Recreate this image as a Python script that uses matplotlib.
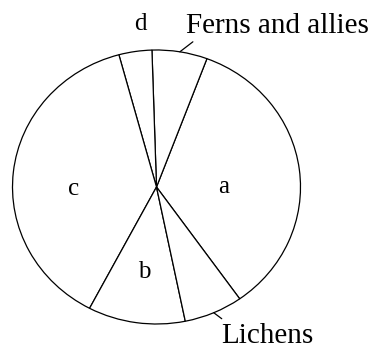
import numpy as np
import matplotlib
matplotlib.use("Agg")
import matplotlib.pyplot as plt

# Slice shares (percent), counter-clockwise starting from slice "a"
labels = ["a", "Ferns and allies", "d", "c", "b", "Lichens"]
values = [34.5, 6.2, 3.7, 38.1, 10.9, 6.6]
start_angle = -54.7

W, H = 377, 349
cx, cy = 156.5, 187.0   # pie centre in pixels
rx, ry = 144.0, 137.0   # pie radii in pixels

fig = plt.figure(figsize=(W / 100, H / 100), dpi=100)
ax = fig.add_axes([0, 0, 1, 1])
wedges, _ = ax.pie(values, startangle=start_angle, counterclock=True,
                   radius=1.0, center=(0, 0),
                   wedgeprops=dict(facecolor="white", edgecolor="black",
                                   linewidth=0.9))
ax.set_aspect("auto")
ax.set_xlim(-cx / rx, (W - cx) / rx)
ax.set_ylim(-(H - cy) / ry, cy / ry)
ax.axis("off")

font = "Liberation Serif"

def px(x, y):
    return x / W, 1 - y / H

# inside / outside letter labels (baseline positions in pixels)
letter_pos = {"a": (224, 193), "c": (74, 195), "b": (144, 278), "d": (140, 30)}
for lab, (x, y) in letter_pos.items():
    ax.text(*px(x, y), lab, transform=ax.transAxes, ha="center", va="baseline",
            fontsize=18, family=font, color="black")

# outer named labels with short leader ticks at wedge mid-angles
total = sum(values)
angles = np.cumsum([0] + values) / total * 360 + start_angle
mids = {lab: (angles[i] + angles[i + 1]) / 2 for i, lab in enumerate(labels)}

ext = {"Ferns and allies": ((186, 33), (13, 10)), "Lichens": ((221, 343), (8, -6))}
for lab, ((tx, ty), (dx, dy)) in ext.items():
    th = np.deg2rad(mids[lab])
    pt = (np.cos(th), np.sin(th))
    ax.annotate("", xy=pt, xytext=(dx, dy), textcoords="offset pixels",
                arrowprops=dict(arrowstyle="-", lw=0.9, color="black",
                                shrinkA=0, shrinkB=0))
    ax.text(*px(tx, ty), lab, transform=ax.transAxes, ha="left", va="baseline",
            fontsize=21, family=font, color="black")

fig.savefig("out.png", dpi=100, facecolor="white")
